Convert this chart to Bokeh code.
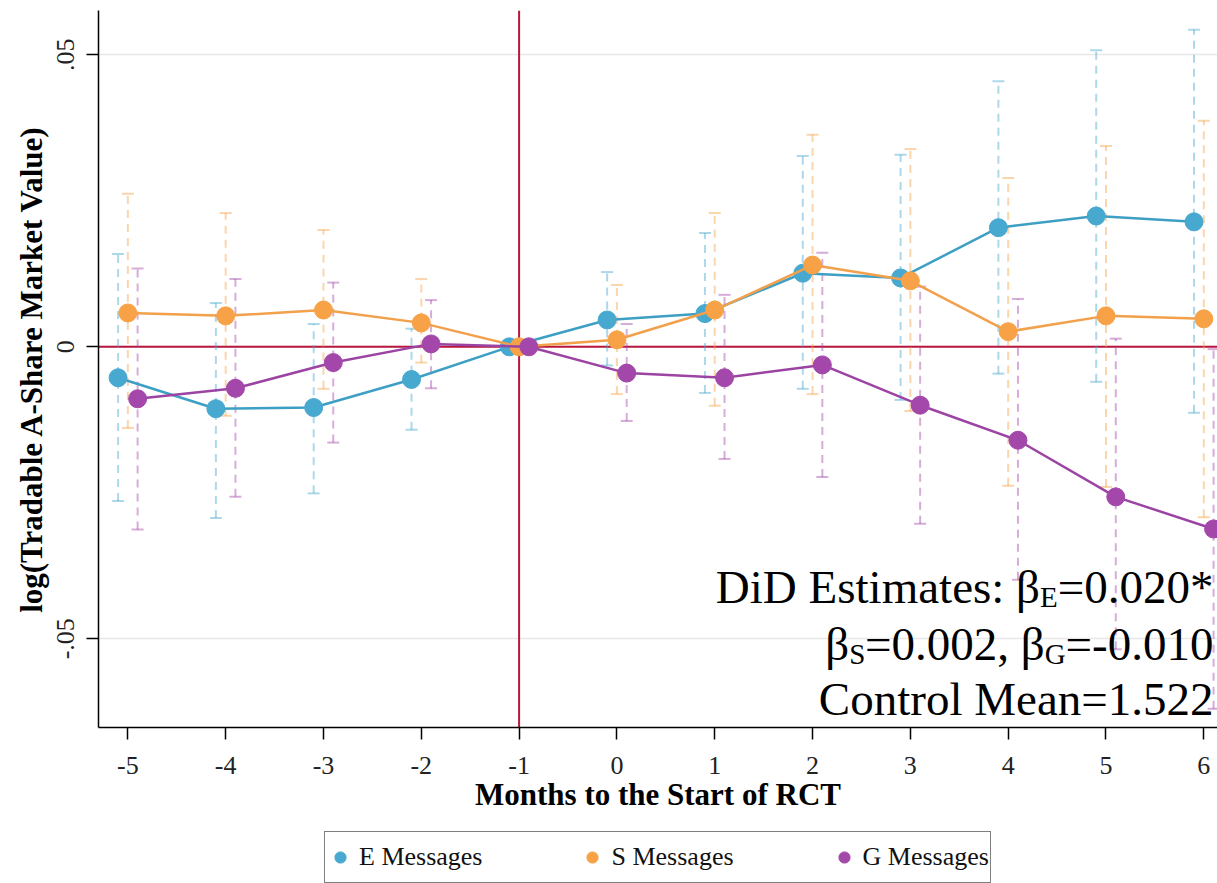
from bokeh.plotting import figure
from bokeh.layouts import column
from bokeh.models import (Range1d, FixedTicker, Span, Whisker, TeeHead,
                          ColumnDataSource, Legend, LegendItem)
from bokeh.core.properties import value
from bokeh.embed import file_html
from bokeh.resources import INLINE

# Event-study estimates by month relative to the RCT start (month -1 is the reference)
months = [-5, -4, -3, -2, -1, 0, 1, 2, 3, 4, 5, 6]

e_coef = [-0.0053, -0.0106, -0.0104, -0.0056, 0.0, 0.0046, 0.0057, 0.0126, 0.0118, 0.0204, 0.0224, 0.0214]
e_lo = [-0.0264, -0.0293, -0.0251, -0.0142, None, -0.0032, -0.0079, -0.0072, -0.0091, -0.0046, -0.0060, -0.0113]
e_hi = [0.0159, 0.0075, 0.0039, 0.0031, None, 0.0128, 0.0195, 0.0327, 0.0329, 0.0455, 0.0508, 0.0543]

s_coef = [0.0058, 0.0053, 0.0063, 0.0041, 0.0, 0.0012, 0.0063, 0.0140, 0.0113, 0.0026, 0.0053, 0.0048]
s_lo = [-0.0139, -0.0118, -0.0072, -0.0027, None, -0.0081, -0.0101, -0.0081, -0.0110, -0.0238, -0.0240, -0.0292]
s_hi = [0.0262, 0.0229, 0.0200, 0.0116, None, 0.0106, 0.0229, 0.0363, 0.0339, 0.0289, 0.0344, 0.0387]

g_coef = [-0.0089, -0.0071, -0.0027, 0.0005, 0.0, -0.0045, -0.0053, -0.0031, -0.0100, -0.0160, -0.0257, -0.0312]
g_lo = [-0.0313, -0.0257, -0.0164, -0.0071, None, -0.0127, -0.0192, -0.0223, -0.0303, -0.0399, -0.0518, -0.0620]
g_hi = [0.0134, 0.0116, 0.0110, 0.0080, None, 0.0039, 0.0089, 0.0161, 0.0103, 0.0082, 0.0014, -0.0004]

series_names = ["E Messages", "S Messages", "G Messages"]
x_ticks = [-5, -4, -3, -2, -1, 0, 1, 2, 3, 4, 5, 6]
x_tick_labels = {m: str(m) for m in x_ticks}
y_ticks = [-0.05, 0.0, 0.05]
y_tick_labels = {-0.05: "-.05", 0.0: "0", 0.05: ".05"}

SERIF = "Liberation Serif"
X_MIN, X_MAX = -5.30, 6.14
Y_MIN, Y_MAX = -0.0652, 0.0576

p = figure(width=1217, height=830,
           x_range=Range1d(X_MIN, X_MAX), y_range=Range1d(Y_MIN, Y_MAX),
           output_backend="svg", toolbar_location=None,
           min_border_left=98, min_border_right=0, min_border_top=10,
           min_border_bottom=103,
           background_fill_color="white", border_fill_color="white",
           outline_line_color=None)

# axes
p.xaxis.ticker = FixedTicker(ticks=x_ticks)
p.xaxis.major_label_overrides = x_tick_labels
p.yaxis.ticker = FixedTicker(ticks=y_ticks)
p.yaxis.major_label_overrides = y_tick_labels
p.yaxis.major_label_orientation = "vertical"
for ax in (p.xaxis, p.yaxis):
    ax.axis_line_color = "black"
    ax.axis_line_width = 1.5
    ax.major_tick_line_color = "black"
    ax.major_tick_line_width = 1.5
    ax.major_tick_out = 12
    ax.major_tick_in = 0
    ax.minor_tick_line_color = None
    ax.major_label_text_font = SERIF
    ax.major_label_text_font_size = "26px"
    ax.major_label_text_color = "#222222"
    ax.axis_label_text_font = SERIF
    ax.axis_label_text_font_style = "bold"
    ax.axis_label_text_font_size = "31px"
    ax.axis_label_text_color = "black"
p.xaxis.axis_label = "Months to the Start of RCT"
p.yaxis.axis_label = "log(Tradable A-Share Market Value)"
p.xaxis.major_label_standoff = 17
p.xaxis.axis_label_standoff = 0
p.yaxis.major_label_standoff = 12
p.yaxis.axis_label_standoff = 6

p.xgrid.grid_line_color = None
p.ygrid.ticker = FixedTicker(ticks=y_ticks)
p.ygrid.grid_line_color = "#e8e8e8"
p.ygrid.grid_line_width = 1.5

# reference lines at zero effect and at the reference month
RED = "#b8163f"
p.add_layout(Span(location=0, dimension="width", line_color=RED, line_width=2, level="underlay"))
p.add_layout(Span(location=-1, dimension="height", line_color=RED, line_width=2, level="underlay"))

series = [
    (e_coef, e_lo, e_hi, -0.1, "#47a8d0", "#3d9fc4"),
    (s_coef, s_lo, s_hi, 0.0, "#f7a246", "#f2a04c"),
    (g_coef, g_lo, g_hi, 0.1, "#a347aa", "#9c44a3"),
]

# confidence intervals (dashed, light)
for coef, lo, hi, off, col, lcol in series:
    idx = [i for i in range(len(months)) if lo[i] is not None]
    src = ColumnDataSource(dict(
        base=[months[i] + off for i in idx],
        lower=[lo[i] for i in idx],
        upper=[hi[i] for i in idx],
    ))
    w = Whisker(source=src, base="base", lower="lower", upper="upper",
                dimension="height", line_color=col, line_alpha=0.45,
                line_width=2, line_dash="8 6",
                upper_head=TeeHead(size=12, line_color=col, line_alpha=0.45, line_width=2),
                lower_head=TeeHead(size=12, line_color=col, line_alpha=0.45, line_width=2))
    p.add_layout(w)

# point estimates with connecting lines
point_sources = []
for coef, lo, hi, off, col, lcol in series:
    src = ColumnDataSource(dict(x=[m + off for m in months], y=coef))
    point_sources.append(src)
    p.line("x", "y", source=src, line_color=lcol, line_width=2.5)
    p.scatter("x", "y", source=src, size=18, fill_color=col, line_color=col)

# DiD summary text: right-aligned runs, subscripts set smaller and lowered
MAIN, SUB = 47, 29
LIFT = -17
CHAR_W = {" ": 250, "*": 500, ",": 250, "-": 333, ".": 250, ":": 278, "=": 564,
          "C": 667, "D": 722, "E": 611, "G": 722, "M": 889, "S": 556,
          "a": 444, "e": 444, "i": 278, "l": 278, "m": 778, "n": 500, "o": 500,
          "r": 333, "s": 389, "t": 278, "\u03b2": 500}


def text_width(s, size):
    return sum(CHAR_W.get(c, 500) for c in s) * size / 1000.0


runs = [
    ([("DiD Estimates: \u03b2", MAIN, 0), ("E", SUB, 10), ("=0.020*", MAIN, 0)], -0.0440),
    ([("\u03b2", MAIN, 0), ("S", SUB, 10), ("=0.002, \u03b2", MAIN, 0),
      ("G", SUB, 10), ("=-0.010", MAIN, 0)], -0.0538),
    ([("Control Mean=1.522", MAIN, 0)], -0.0632),
]
note = dict(x=[], y=[], text=[], xoff=[], yoff=[], size=[])
for parts, y in runs:
    xoff = -4.0
    for text, size, dy in reversed(parts):
        note["x"].append(X_MAX)
        note["y"].append(y)
        note["text"].append(text)
        note["xoff"].append(xoff)
        note["yoff"].append(dy + LIFT)
        note["size"].append(f"{size}px")
        xoff -= text_width(text, size)
p.text("x", "y", text="text", x_offset="xoff", y_offset="yoff",
       text_font_size="size", source=ColumnDataSource(note),
       text_font=value(SERIF), text_align="right", text_baseline="alphabetic",
       text_color="black")

# legend strip under the chart
leg = figure(width=1217, height=53, x_range=Range1d(0, 1), y_range=Range1d(0, 1),
             output_backend="svg", toolbar_location=None,
             x_axis_location=None, y_axis_location=None,
             min_border=0, outline_line_color=None,
             background_fill_color="white", border_fill_color="white")
leg.grid.visible = False
items = []
for (coef, lo, hi, off, col, lcol), name, src in zip(series, series_names, point_sources):
    r = leg.scatter("x", "y", source=src, size=18, fill_color=col, line_color=col,
                    visible=False)
    items.append(LegendItem(label=name, renderers=[r]))
legend = Legend(items=items, orientation="horizontal", location=(226, 0),
                label_text_font=SERIF, label_text_font_size="26px",
                label_text_color="#111111",
                glyph_width=28, glyph_height=48, padding=1, spacing=96,
                label_standoff=5, margin=0,
                border_line_color="black", border_line_width=1.5,
                background_fill_color="white")
leg.add_layout(legend)

layout = column(p, leg, spacing=0)
open("out.html", "w").write(file_html(layout, INLINE))
